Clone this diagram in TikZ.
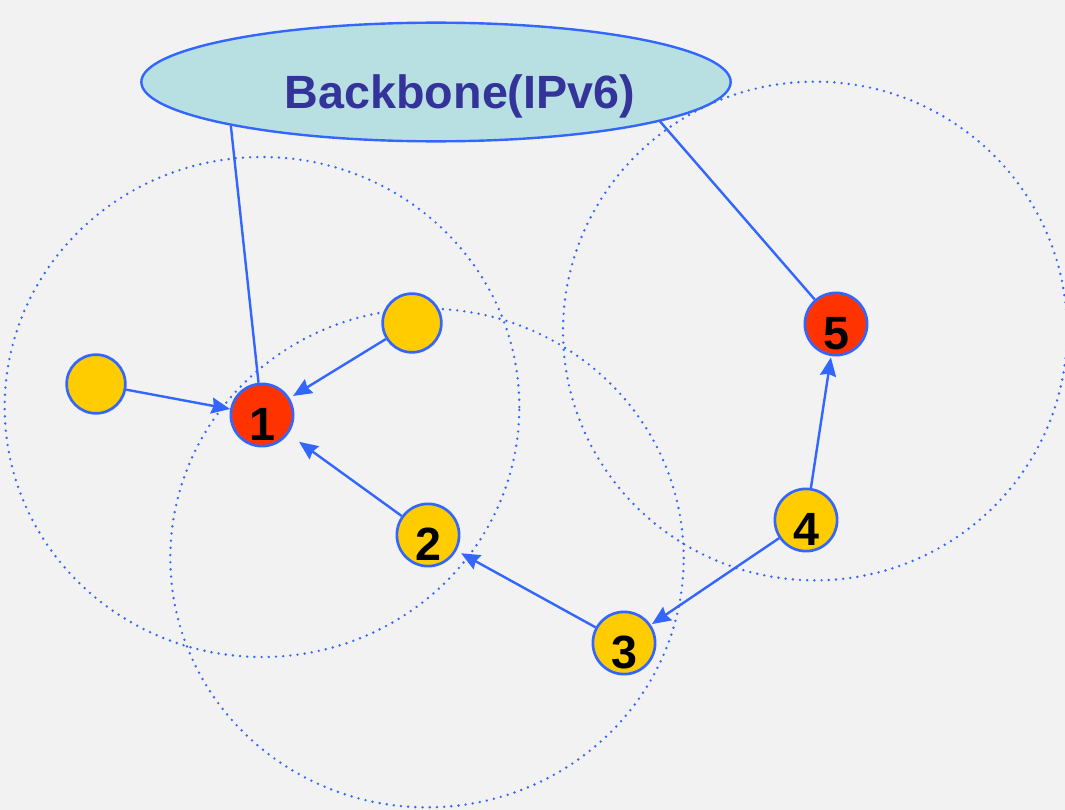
\documentclass[tikz,border=0pt]{standalone}
\usepackage{xcolor}
\usepackage{fontspec}
\setmainfont{Liberation Sans}
\usepackage{tikz}
\usetikzlibrary{arrows.meta,shapes.geometric}
\definecolor{netblue}{HTML}{3366FF}
\definecolor{hostred}{HTML}{FF3300}
\definecolor{hostyellow}{HTML}{FFCC00}
\definecolor{bbfill}{HTML}{B8DFE2}
\definecolor{bbtext}{HTML}{333399}
\definecolor{paper}{HTML}{F2F2F2}
\tikzset{
  host/.style={circle,draw=netblue,line width=2pt,minimum size=44pt,inner sep=0pt,
    font=\bfseries\fontsize{35}{35}\selectfont,text height=40pt,text depth=2.5pt},
  link/.style={draw=netblue,line width=1.8pt},
  hop/.style={link,-{Stealth[length=14pt,width=12pt,inset=1.5pt]}},
  reach/.style={netblue,line width=2pt,line cap=round,dash pattern=on 0pt off 5.4pt}
}

\begin{document}
\begin{tikzpicture}[x=0.75pt,y=-0.75pt]
    \fill[paper] (0,0) rectangle (1065,810);
    \useasboundingbox (0,0) rectangle (1065,810);
    % radio ranges
    \draw[reach] (262,407) ellipse [x radius=193pt, y radius=187.5pt];
    \draw[reach] (427,558) ellipse [x radius=192.5pt, y radius=187pt];
    \draw[reach] (815,331) ellipse [x radius=189pt, y radius=187pt];
    \node[ellipse,draw=netblue,line width=1.8pt,fill=bbfill,minimum width=442pt,minimum height=89pt,inner sep=0pt,
      text=bbtext,font=\bfseries\fontsize{35}{35}\selectfont,text height=42pt,text depth=2.8pt] (bb) at (436,82) {\hspace*{36pt}Backbone(IPv6)};
    \node[host,fill=hostyellow] (ha) at (96,384) {};
    \node[host,fill=hostyellow] (hb) at (412,323) {};
    \node[host,fill=hostred] (n1) at (262,415) {1};
    \node[host,fill=hostyellow] (n2) at (428,535) {2};
    \node[host,fill=hostyellow] (n3) at (624,643) {3};
    \node[host,fill=hostyellow] (n4) at (806,520) {4};
    \node[host,fill=hostred] (n5) at (836,324) {5};
    \draw[link] (bb.192.5) -- (n1);
    \draw[link] (bb.350.8) -- (n5);
    \draw[hop] (ha) -- (n1);
    \draw[hop,shorten >=3pt] (hb) -- (n1);
    \draw[hop,shorten >=10pt] (n2) -- (n1);
    \draw[hop,shorten >=4pt] (n3) -- (n2);
    \draw[hop,shorten >=1pt] (n4) -- (n3);
    \draw[hop,shorten >=1pt] (n4) -- (n5);
\end{tikzpicture}
\end{document}
